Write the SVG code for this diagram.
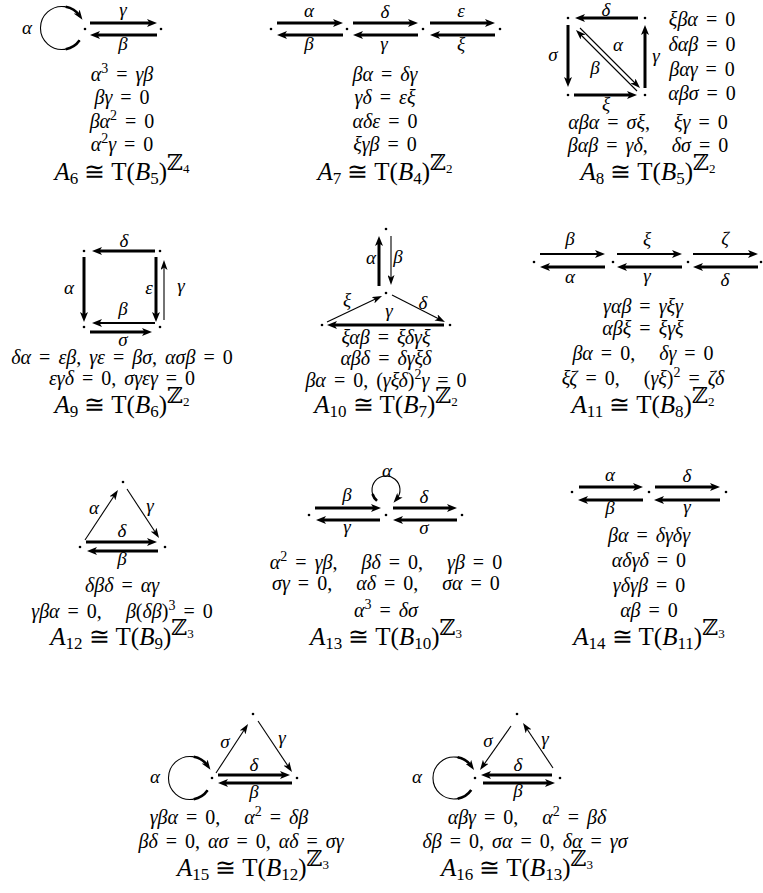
<svg xmlns="http://www.w3.org/2000/svg" width="763" height="893" viewBox="0 0 763 893">
<defs>
<marker id="h" viewBox="0 0 10 8" refX="5" refY="4" markerWidth="10" markerHeight="8" markerUnits="userSpaceOnUse" orient="auto"><path d="M0,0 L10,4 L0,8 L2.5,4 z" fill="#000"/></marker>
<marker id="hs" viewBox="0 0 10 7" refX="5" refY="3.5" markerWidth="10" markerHeight="7" markerUnits="userSpaceOnUse" orient="auto"><path d="M0,0 L10,3.5 L0,7 L2.5,3.5 z" fill="#000"/></marker>
</defs>
<style>
text{font-family:"Liberation Serif","DejaVu Serif",serif;white-space:pre;fill:#000}
.e{font-size:20px;text-anchor:middle;word-spacing:3px}
.l{font-size:19px;font-style:italic;text-anchor:middle}
.t{font-size:25px;text-anchor:middle}
.i{font-style:italic}
.s{font-size:14px}
.ts{font-size:17px}
.tzz{font-size:22px}
.tz{font-size:13px}
.k{stroke:#000;stroke-width:3;fill:none;marker-end:url(#h)}
.m{stroke:#000;stroke-width:2;fill:none;marker-end:url(#h)}
.n{stroke:#000;stroke-width:1.1;fill:none;marker-end:url(#hs)}
.lpa{stroke:#000;stroke-width:1.1;fill:none;marker-end:url(#hs)}
.lt{stroke:#000;stroke-width:2.6;fill:none}
.d{fill:#000}
</style>
<rect width="763" height="893" fill="#fff"/>

<g id="A6">
<g id="A6-nodes"><circle class="d" cx="85" cy="29" r="1.3"/><circle class="d" cx="161" cy="29" r="1.3"/></g>
<g id="A6-connectors">
<line class="k" x1="90" y1="23" x2="152" y2="23"/>
<line class="k" x1="157" y1="35" x2="95" y2="35"/>
<path class="lpa" d="M79.6,40.3 A21.5,21.5 0 1 1 79.6,15.7"/>
<path class="lt" d="M65.7,6.8 A21.5,21.5 0 0 1 79.6,15.7"/>
<path class="lt" d="M79.6,40.3 A21.5,21.5 0 0 1 65.7,49.2"/>
</g>
<text class="l" x="27" y="34">α</text><text class="l" x="123" y="16">γ</text><text class="l" x="123" y="50">β</text>
<text class="e" x="122" y="81"><tspan class="i">α</tspan><tspan class="s" dy="-8">3</tspan><tspan dy="8"> = </tspan><tspan class="i">γβ</tspan></text>
<text class="e" x="122" y="104"><tspan class="i">βγ</tspan> = 0</text>
<text class="e" x="122" y="128"><tspan class="i">βα</tspan><tspan class="s" dy="-8">2</tspan><tspan dy="8"> = 0</tspan></text>
<text class="e" x="122" y="151"><tspan class="i">α</tspan><tspan class="s" dy="-8">2</tspan><tspan class="i" dy="8">γ</tspan> = 0</text>
<text class="t" x="122" y="180"><tspan class="i">A</tspan><tspan class="ts" dy="4">6</tspan><tspan dy="-4"> ≅ T(</tspan><tspan class="i">B</tspan><tspan class="ts" dy="4">5</tspan><tspan dy="-4">)</tspan><tspan class="tzz" dy="-10">ℤ</tspan><tspan class="tz" dy="3">4</tspan></text>
</g>

<g id="A7">
<g id="A7-nodes"><circle class="d" cx="271" cy="29" r="1.3"/><circle class="d" cx="347" cy="29" r="1.3"/><circle class="d" cx="423" cy="29" r="1.3"/><circle class="d" cx="500" cy="29" r="1.3"/></g>
<g id="A7-connectors">
<line class="k" x1="277" y1="23" x2="338" y2="23"/>
<line class="k" x1="353" y1="23" x2="413" y2="23"/>
<line class="k" x1="430" y1="23" x2="490" y2="23"/>
<line class="k" x1="343" y1="35" x2="282" y2="35"/>
<line class="k" x1="418" y1="35" x2="358" y2="35"/>
<line class="k" x1="495" y1="35" x2="435" y2="35"/>
</g>
<text class="l" x="309" y="17">α</text><text class="l" x="385" y="18">δ</text><text class="l" x="461" y="17">ε</text>
<text class="l" x="309" y="50">β</text><text class="l" x="384" y="50">γ</text><text class="l" x="461" y="50">ξ</text>
<text class="e" x="385" y="81"><tspan class="i">βα</tspan> = <tspan class="i">δγ</tspan></text>
<text class="e" x="385" y="104"><tspan class="i">γδ</tspan> = <tspan class="i">εξ</tspan></text>
<text class="e" x="385" y="128"><tspan class="i">αδε</tspan> = 0</text>
<text class="e" x="385" y="151"><tspan class="i">ξγβ</tspan> = 0</text>
<text class="t" x="385" y="180"><tspan class="i">A</tspan><tspan class="ts" dy="4">7</tspan><tspan dy="-4"> ≅ T(</tspan><tspan class="i">B</tspan><tspan class="ts" dy="4">4</tspan><tspan dy="-4">)</tspan><tspan class="tzz" dy="-10">ℤ</tspan><tspan class="tz" dy="3">2</tspan></text>
</g>

<g id="A8">
<g id="A8-nodes"><circle class="d" cx="568" cy="18" r="1.3"/><circle class="d" cx="645" cy="18" r="1.3"/><circle class="d" cx="568" cy="95" r="1.3"/><circle class="d" cx="645" cy="95" r="1.3"/></g>
<g id="A8-connectors">
<line class="k" x1="638" y1="18" x2="580" y2="18"/>
<line class="k" x1="568" y1="25" x2="568" y2="82"/>
<line class="k" x1="645" y1="88" x2="645" y2="30"/>
<line class="k" x1="574" y1="95" x2="632" y2="95"/>
<line class="n" x1="580" y1="28" x2="636.5" y2="84.5"/>
<line class="n" x1="637" y1="91" x2="579.5" y2="33.5"/>
</g>
<text class="l" x="606" y="16">δ</text><text class="l" x="553" y="61">σ</text><text class="l" x="656" y="62">γ</text><text class="l" x="606" y="110">ξ</text><text class="l" x="618" y="51">α</text><text class="l" x="595" y="74">β</text>
<text class="e" x="702" y="26"><tspan class="i">ξβα</tspan> = 0</text>
<text class="e" x="702" y="51"><tspan class="i">δαβ</tspan> = 0</text>
<text class="e" x="702" y="76"><tspan class="i">βαγ</tspan> = 0</text>
<text class="e" x="702" y="100"><tspan class="i">αβσ</tspan> = 0</text>
<text class="e" x="648" y="129"><tspan class="i">αβα</tspan> = <tspan class="i">σξ</tspan>,   <tspan class="i">ξγ</tspan> = 0</text>
<text class="e" x="648" y="152"><tspan class="i">βαβ</tspan> = <tspan class="i">γδ</tspan>,   <tspan class="i">δσ</tspan> = 0</text>
<text class="t" x="648" y="180"><tspan class="i">A</tspan><tspan class="ts" dy="4">8</tspan><tspan dy="-4"> ≅ T(</tspan><tspan class="i">B</tspan><tspan class="ts" dy="4">5</tspan><tspan dy="-4">)</tspan><tspan class="tzz" dy="-10">ℤ</tspan><tspan class="tz" dy="3">2</tspan></text>
</g>

<g id="A9">
<g id="A9-nodes"><circle class="d" cx="84" cy="251" r="1.3"/><circle class="d" cx="160" cy="251" r="1.3"/><circle class="d" cx="84" cy="327" r="1.3"/><circle class="d" cx="160" cy="327" r="1.3"/></g>
<g id="A9-connectors">
<line class="k" x1="155" y1="251" x2="97" y2="251"/>
<line class="k" x1="84" y1="257" x2="84" y2="317"/>
<line class="k" x1="156" y1="257" x2="156" y2="317"/>
<line class="n" x1="164" y1="320" x2="164" y2="265"/>
<line class="m" x1="155" y1="323" x2="97" y2="323"/>
<line class="k" x1="90" y1="332" x2="147" y2="332"/>
</g>
<text class="l" x="124" y="247">δ</text><text class="l" x="69" y="294">α</text><text class="l" x="149" y="294">ε</text><text class="l" x="181" y="292">γ</text><text class="l" x="123" y="315">β</text><text class="l" x="123" y="346">σ</text>
<text class="e" x="122" y="364"><tspan class="i">δα</tspan> = <tspan class="i">εβ</tspan>, <tspan class="i">γε</tspan> = <tspan class="i">βσ</tspan>, <tspan class="i">ασβ</tspan> = 0</text>
<text class="e" x="122" y="385"><tspan class="i">εγδ</tspan> = 0, <tspan class="i">σγεγ</tspan> = 0</text>
<text class="t" x="122" y="413"><tspan class="i">A</tspan><tspan class="ts" dy="4">9</tspan><tspan dy="-4"> ≅ T(</tspan><tspan class="i">B</tspan><tspan class="ts" dy="4">6</tspan><tspan dy="-4">)</tspan><tspan class="tzz" dy="-10">ℤ</tspan><tspan class="tz" dy="3">2</tspan></text>
</g>

<g id="A10">
<g id="A10-nodes"><circle class="d" cx="386" cy="229" r="1.3"/><circle class="d" cx="386" cy="293" r="1.3"/><circle class="d" cx="322" cy="325" r="1.3"/><circle class="d" cx="450" cy="325" r="1.3"/></g>
<g id="A10-connectors">
<line class="k" x1="379" y1="286" x2="379" y2="241"/>
<line class="n" x1="391" y1="236" x2="391" y2="280"/>
<line class="n" x1="327" y1="322" x2="377.5" y2="298.1"/>
<line class="n" x1="392" y1="295" x2="440.5" y2="319.7"/>
<line class="k" x1="444" y1="325" x2="332" y2="325"/>
</g>
<text class="l" x="371" y="264">α</text><text class="l" x="398" y="263">β</text><text class="l" x="347" y="306">ξ</text><text class="l" x="423" y="309">δ</text><text class="l" x="389" y="317">γ</text>
<text class="e" x="386" y="344"><tspan class="i">ξαβ</tspan> = <tspan class="i">ξδγξ</tspan></text>
<text class="e" x="386" y="365"><tspan class="i">αβδ</tspan> = <tspan class="i">δγξδ</tspan></text>
<text class="e" x="386" y="387"><tspan class="i">βα</tspan> = 0, (<tspan class="i">γξδ</tspan>)<tspan class="s" dy="-8">2</tspan><tspan class="i" dy="8">γ</tspan> = 0</text>
<text class="t" x="386" y="413"><tspan class="i">A</tspan><tspan class="ts" dy="4">10</tspan><tspan dy="-4"> ≅ T(</tspan><tspan class="i">B</tspan><tspan class="ts" dy="4">7</tspan><tspan dy="-4">)</tspan><tspan class="tzz" dy="-10">ℤ</tspan><tspan class="tz" dy="3">2</tspan></text>
</g>

<g id="A11">
<g id="A11-nodes"><circle class="d" cx="534" cy="262" r="1.3"/><circle class="d" cx="613" cy="262" r="1.3"/><circle class="d" cx="688" cy="262" r="1.3"/><circle class="d" cx="761" cy="262" r="1.3"/></g>
<g id="A11-connectors">
<line class="m" x1="540" y1="254" x2="600" y2="254"/>
<line class="m" x1="617" y1="254" x2="677" y2="254"/>
<line class="m" x1="693" y1="254" x2="753" y2="254"/>
<line class="k" x1="605" y1="267" x2="545" y2="267"/>
<line class="k" x1="682" y1="267" x2="622" y2="267"/>
<line class="k" x1="758" y1="267" x2="698" y2="267"/>
</g>
<text class="l" x="570" y="245">β</text><text class="l" x="647" y="245">ξ</text><text class="l" x="725" y="245">ζ</text>
<text class="l" x="570" y="283">α</text><text class="l" x="647" y="282">γ</text><text class="l" x="725" y="286">δ</text>
<text class="e" x="643" y="313"><tspan class="i">γαβ</tspan> = <tspan class="i">γξγ</tspan></text>
<text class="e" x="643" y="335"><tspan class="i">αβξ</tspan> = <tspan class="i">ξγξ</tspan></text>
<text class="e" x="643" y="360"><tspan class="i">βα</tspan> = 0,   <tspan class="i">δγ</tspan> = 0</text>
<text class="e" x="643" y="385"><tspan class="i">ξζ</tspan> = 0,   (<tspan class="i">γξ</tspan>)<tspan class="s" dy="-8">2</tspan><tspan dy="8"> = </tspan><tspan class="i">ζδ</tspan></text>
<text class="t" x="643" y="413"><tspan class="i">A</tspan><tspan class="ts" dy="4">11</tspan><tspan dy="-4"> ≅ T(</tspan><tspan class="i">B</tspan><tspan class="ts" dy="4">8</tspan><tspan dy="-4">)</tspan><tspan class="tzz" dy="-10">ℤ</tspan><tspan class="tz" dy="3">2</tspan></text>
</g>

<g id="A12">
<g id="A12-nodes"><circle class="d" cx="123" cy="482" r="1.3"/><circle class="d" cx="80" cy="547" r="1.3"/><circle class="d" cx="165" cy="547" r="1.3"/></g>
<g id="A12-connectors">
<line class="n" x1="85" y1="540" x2="115.2" y2="494.2"/>
<line class="n" x1="127" y1="489" x2="156.3" y2="533.8"/>
<line class="k" x1="86" y1="542" x2="152" y2="542"/>
<line class="k" x1="158" y1="551" x2="92" y2="551"/>
</g>
<text class="l" x="94" y="514">α</text><text class="l" x="150" y="512">γ</text><text class="l" x="122" y="537">δ</text><text class="l" x="122" y="565">β</text>
<text class="e" x="122" y="592"><tspan class="i">δβδ</tspan> = <tspan class="i">αγ</tspan></text>
<text class="e" x="122" y="618"><tspan class="i">γβα</tspan> = 0,   <tspan class="i">β</tspan>(<tspan class="i">δβ</tspan>)<tspan class="s" dy="-8">3</tspan><tspan dy="8"> = 0</tspan></text>
<text class="t" x="122" y="645"><tspan class="i">A</tspan><tspan class="ts" dy="4">12</tspan><tspan dy="-4"> ≅ T(</tspan><tspan class="i">B</tspan><tspan class="ts" dy="4">9</tspan><tspan dy="-4">)</tspan><tspan class="tzz" dy="-10">ℤ</tspan><tspan class="tz" dy="3">3</tspan></text>
</g>

<g id="A13">
<g id="A13-nodes"><circle class="d" cx="309" cy="515" r="1.3"/><circle class="d" cx="386" cy="515" r="1.3"/><circle class="d" cx="462" cy="515" r="1.3"/></g>
<g id="A13-connectors">
<line class="k" x1="315" y1="508" x2="376" y2="508"/>
<line class="k" x1="380" y1="520" x2="321" y2="520"/>
<line class="k" x1="393" y1="508" x2="452" y2="508"/>
<line class="k" x1="457" y1="520" x2="398" y2="520"/>
<path class="lpa" d="M377,500.7 A14,14 0 1 1 396.7,499"/>
<path class="lt" d="M377,500.7 A14,14 0 0 1 372.5,494"/>
</g>
<text class="l" x="387" y="477">α</text><text class="l" x="347" y="501">β</text><text class="l" x="424" y="503">δ</text><text class="l" x="347" y="533">γ</text><text class="l" x="424" y="534">σ</text>
<text class="e" x="386" y="569"><tspan class="i">α</tspan><tspan class="s" dy="-8">2</tspan><tspan dy="8"> = </tspan><tspan class="i">γβ</tspan>,   <tspan class="i">βδ</tspan> = 0,   <tspan class="i">γβ</tspan> = 0</text>
<text class="e" x="386" y="590"><tspan class="i">σγ</tspan> = 0,   <tspan class="i">αδ</tspan> = 0,   <tspan class="i">σα</tspan> = 0</text>
<text class="e" x="386" y="617"><tspan class="i">α</tspan><tspan class="s" dy="-8">3</tspan><tspan dy="8"> = </tspan><tspan class="i">δσ</tspan></text>
<text class="t" x="386" y="645"><tspan class="i">A</tspan><tspan class="ts" dy="4">13</tspan><tspan dy="-4"> ≅ T(</tspan><tspan class="i">B</tspan><tspan class="ts" dy="4">10</tspan><tspan dy="-4">)</tspan><tspan class="tzz" dy="-10">ℤ</tspan><tspan class="tz" dy="3">3</tspan></text>
</g>

<g id="A14">
<g id="A14-nodes"><circle class="d" cx="572" cy="492" r="1.3"/><circle class="d" cx="649" cy="492" r="1.3"/><circle class="d" cx="726" cy="492" r="1.3"/></g>
<g id="A14-connectors">
<line class="k" x1="579" y1="487" x2="638" y2="487"/>
<line class="k" x1="655" y1="487" x2="715" y2="487"/>
<line class="k" x1="643" y1="500" x2="583" y2="500"/>
<line class="k" x1="720" y1="500" x2="659" y2="500"/>
</g>
<text class="l" x="610" y="481">α</text><text class="l" x="687" y="482">δ</text><text class="l" x="610" y="514">β</text><text class="l" x="687" y="513">γ</text>
<text class="e" x="649" y="542"><tspan class="i">βα</tspan> = <tspan class="i">δγδγ</tspan></text>
<text class="e" x="649" y="567"><tspan class="i">αδγδ</tspan> = 0</text>
<text class="e" x="649" y="592"><tspan class="i">γδγβ</tspan> = 0</text>
<text class="e" x="649" y="617"><tspan class="i">αβ</tspan> = 0</text>
<text class="t" x="649" y="645"><tspan class="i">A</tspan><tspan class="ts" dy="4">14</tspan><tspan dy="-4"> ≅ T(</tspan><tspan class="i">B</tspan><tspan class="ts" dy="4">11</tspan><tspan dy="-4">)</tspan><tspan class="tzz" dy="-10">ℤ</tspan><tspan class="tz" dy="3">3</tspan></text>
</g>

<g id="A15">
<g id="A15-nodes"><circle class="d" cx="253" cy="714" r="1.3"/><circle class="d" cx="212" cy="778" r="1.3"/><circle class="d" cx="297" cy="778" r="1.3"/></g>
<g id="A15-connectors">
<line class="n" x1="216" y1="773" x2="245.3" y2="728.2"/>
<line class="n" x1="258" y1="721" x2="289.2" y2="767.8"/>
<line class="k" x1="218" y1="775" x2="285" y2="775"/>
<line class="k" x1="292" y1="783" x2="223" y2="783"/>
<path class="lpa" d="M207.6,790.3 A21.5,21.5 0 1 1 207.6,765.7"/>
<path class="lt" d="M193.7,756.8 A21.5,21.5 0 0 1 207.6,765.7"/>
<path class="lt" d="M207.6,790.3 A21.5,21.5 0 0 1 193.7,799.2"/>
</g>
<text class="l" x="155" y="783">α</text><text class="l" x="225" y="748">σ</text><text class="l" x="282" y="744">γ</text><text class="l" x="254" y="771">δ</text><text class="l" x="254" y="798">β</text>
<text class="e" x="229" y="824"><tspan class="i">γβα</tspan> = 0,   <tspan class="i">α</tspan><tspan class="s" dy="-8">2</tspan><tspan dy="8"> = </tspan><tspan class="i">δβ</tspan></text>
<text class="e" x="241" y="848"><tspan class="i">βδ</tspan> = 0, <tspan class="i">ασ</tspan> = 0, <tspan class="i">αδ</tspan> = <tspan class="i">σγ</tspan></text>
<text class="t" x="253" y="876"><tspan class="i">A</tspan><tspan class="ts" dy="4">15</tspan><tspan dy="-4"> ≅ T(</tspan><tspan class="i">B</tspan><tspan class="ts" dy="4">12</tspan><tspan dy="-4">)</tspan><tspan class="tzz" dy="-10">ℤ</tspan><tspan class="tz" dy="3">3</tspan></text>
</g>

<g id="A16">
<g id="A16-nodes"><circle class="d" cx="517" cy="714" r="1.3"/><circle class="d" cx="475" cy="778" r="1.3"/><circle class="d" cx="560" cy="778" r="1.3"/></g>
<g id="A16-connectors">
<line class="n" x1="511" y1="726" x2="482.9" y2="765.9"/>
<line class="n" x1="553" y1="768" x2="525.8" y2="727.2"/>
<line class="k" x1="552" y1="775" x2="486" y2="775"/>
<line class="k" x1="483" y1="783" x2="550" y2="783"/>
<path class="lpa" d="M471.2,790 A21,21 0 1 1 471.2,766"/>
<path class="lt" d="M457.6,757.3 A21,21 0 0 1 471.2,766"/>
<path class="lt" d="M471.2,790 A21,21 0 0 1 457.6,798.7"/>
</g>
<text class="l" x="417" y="783">α</text><text class="l" x="488" y="747">σ</text><text class="l" x="545" y="745">γ</text><text class="l" x="518" y="771">δ</text><text class="l" x="518" y="797">β</text>
<text class="e" x="527" y="824"><tspan class="i">αβγ</tspan> = 0,   <tspan class="i">α</tspan><tspan class="s" dy="-8">2</tspan><tspan dy="8"> = </tspan><tspan class="i">βδ</tspan></text>
<text class="e" x="525" y="848"><tspan class="i">δβ</tspan> = 0, <tspan class="i">σα</tspan> = 0, <tspan class="i">δα</tspan> = <tspan class="i">γσ</tspan></text>
<text class="t" x="517" y="876"><tspan class="i">A</tspan><tspan class="ts" dy="4">16</tspan><tspan dy="-4"> ≅ T(</tspan><tspan class="i">B</tspan><tspan class="ts" dy="4">13</tspan><tspan dy="-4">)</tspan><tspan class="tzz" dy="-10">ℤ</tspan><tspan class="tz" dy="3">3</tspan></text>
</g>
</svg>
